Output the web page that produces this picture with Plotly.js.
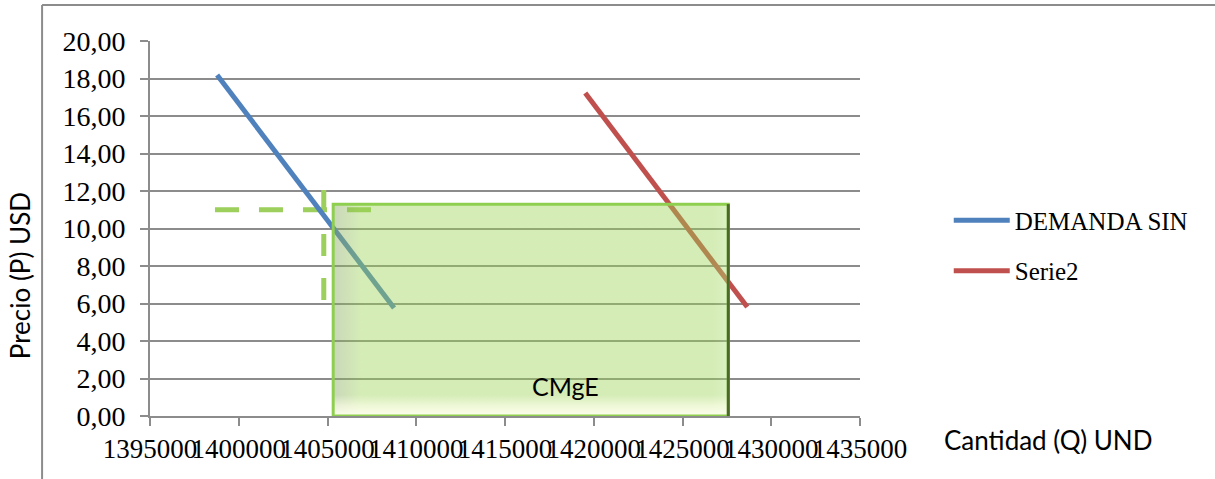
<!DOCTYPE html>
<html>
<head>
<meta charset="utf-8">
<script src="https://cdn.plot.ly/plotly-3.0.1.min.js"></script>
<style>html,body{margin:0;padding:0;background:#fff;}#chart{width:1215px;height:479px;}</style>
</head>
<body>
<div id="chart"></div>
<script>
// Series data
const demandaQ = [1398780, 1408750];
const demandaP = [18.19, 5.76];
const serie2Q = [1419520, 1428650];
const serie2P = [17.23, 5.81];
// Dashed guide lines
const guideHQ = [1398660, 1407520];
const guideHP = [11.0, 11.0];
const guideVQ = [1404790, 1404790];
const guideVP = [12.05, 5.9];
// CMgE rectangle (corners)
const cmgeQ = [1405320, 1427580];
const cmgeP = [0, 11.3];
const cmgeLabelQ = [1418400];
const cmgeLabelP = [1.6];
// Axis ticks
const xTickVals = [1395000, 1400000, 1405000, 1410000, 1415000, 1420000, 1425000, 1430000, 1435000];
const yTickVals = [0, 2, 4, 6, 8, 10, 12, 14, 16, 18, 20];
const yTickText = ["0,00","2,00","4,00","6,00","8,00","10,00","12,00","14,00","16,00","18,00","20,00"];

const serif = "Liberation Serif, Times New Roman, serif";
const sans = "Lato, Open Sans, sans-serif";

const rectX = [cmgeQ[0], cmgeQ[0], cmgeQ[1], cmgeQ[1], cmgeQ[0]];
const rectY = [cmgeP[0], cmgeP[1], cmgeP[1], cmgeP[0], cmgeP[0]];
// bottom bevel band height (purely visual, derived from the rectangle)
const bevel = (cmgeP[1] - cmgeP[0]) * 0.1;
const bandY = [cmgeP[0], cmgeP[0] + bevel, cmgeP[0] + bevel, cmgeP[0], cmgeP[0]];

const traces = [
  {x: guideHQ, y: guideHP, mode: 'lines', showlegend: false, hoverinfo: 'skip',
   line: {color: '#9ccf5c', width: 5, dash: '24px,20px'}},
  {x: guideVQ, y: guideVP, mode: 'lines', showlegend: false, hoverinfo: 'skip',
   line: {color: '#9ccf5c', width: 5, dash: '22px,22px'}},
  {x: demandaQ, y: demandaP, mode: 'lines', name: 'DEMANDA SIN', legendgroup: 'a',
   line: {color: '#4f81bd', width: 5}},
  {x: serie2Q, y: serie2P, mode: 'lines', name: 'Serie2', legendgroup: 'b',
   line: {color: '#c0504d', width: 5}},
  {x: rectX, y: rectY, mode: 'lines', fill: 'toself', showlegend: false, hoverinfo: 'skip',
   fillcolor: 'rgba(154,210,82,0.42)',
   fillgradient: {type: 'horizontal', start: cmgeQ[0], stop: cmgeQ[1], colorscale: [
     [0, 'rgba(135,165,100,0.45)'], [0.07, 'rgba(154,210,82,0.42)'],
     [0.96, 'rgba(154,210,82,0.42)'], [1, 'rgba(175,225,120,0.45)']]},
   line: {color: '#8fcf4f', width: 0}},
  {x: rectX, y: bandY, mode: 'lines', fill: 'toself', showlegend: false, hoverinfo: 'skip',
   fillcolor: 'rgba(255,255,235,0.5)',
   fillgradient: {type: 'vertical', start: cmgeP[0], stop: cmgeP[0] + bevel, colorscale: [
     [0, 'rgba(255,255,240,0.95)'], [0.5, 'rgba(255,255,235,0.6)'], [1, 'rgba(255,255,235,0)']]},
   line: {width: 0}},
  {x: rectX, y: rectY, mode: 'lines', showlegend: false, hoverinfo: 'skip',
   line: {color: '#8fcf4f', width: 3}},
  {x: [cmgeQ[1], cmgeQ[1]], y: [cmgeP[0], cmgeP[1]], mode: 'lines', showlegend: false, hoverinfo: 'skip',
   line: {color: '#4a6a26', width: 3}}
];

const layout = {
  width: 1215, height: 479,
  margin: {l: 150, r: 355, t: 41, b: 63},
  paper_bgcolor: '#ffffff', plot_bgcolor: '#ffffff',
  showlegend: true,
  legend: {x: 1.125, y: 0.455, xanchor: 'left', yanchor: 'middle', itemwidth: 56,
    tracegroupgap: 15, font: {family: serif, size: 25, color: '#000'}, bgcolor: 'rgba(0,0,0,0)'},
  xaxis: {range: [1395000, 1435000], tickvals: xTickVals, tickformat: 'd', tickangle: 0,
    showgrid: false, zeroline: false, showline: true, linecolor: '#8c8c8c', linewidth: 2,
    ticks: 'outside', ticklen: 8, tickwidth: 2, tickcolor: '#8c8c8c',
    tickfont: {family: serif, size: 27, color: '#000'}},
  yaxis: {range: [0, 20], tickvals: yTickVals, ticktext: yTickText,
    showgrid: true, gridcolor: '#8c8c8c', gridwidth: 2, zeroline: false,
    showline: true, linecolor: '#8c8c8c', linewidth: 2,
    ticks: 'outside', ticklen: 8, tickwidth: 2, tickcolor: '#8c8c8c', ticklabelstandoff: 9,
    tickfont: {family: serif, size: 28, color: '#000'}},
  shapes: [
    {type: 'line', xref: 'paper', yref: 'paper', x0: -0.152, x1: -0.152, y0: 1.096, y1: -0.2,
     line: {color: '#8c8c8c', width: 2}},
    {type: 'line', xref: 'paper', yref: 'paper', x0: -0.152, x1: 1.52, y0: 1.096, y1: 1.096,
     line: {color: '#8c8c8c', width: 2}}
  ],
  annotations: [
    {x: cmgeLabelQ[0], y: cmgeLabelP[0], xref: 'x', yref: 'y', text: 'CMgE', showarrow: false,
     xanchor: 'center', yanchor: 'middle', font: {family: sans, size: 25, color: '#000'}},
    {x: -0.183, y: 0.373, xref: 'paper', yref: 'paper', text: 'Precio (P) USD', textangle: -90,
     xanchor: 'center', yanchor: 'middle', showarrow: false, font: {family: sans, size: 26, color: '#000'}},
    {x: 1.265, y: -0.064, xref: 'paper', yref: 'paper', text: 'Cantidad (Q) UND',
     xanchor: 'center', yanchor: 'middle', showarrow: false, font: {family: sans, size: 26, color: '#000'}}
  ]
};

Plotly.newPlot('chart', traces, layout, {displayModeBar: false, staticPlot: true});
</script>
</body>
</html>
